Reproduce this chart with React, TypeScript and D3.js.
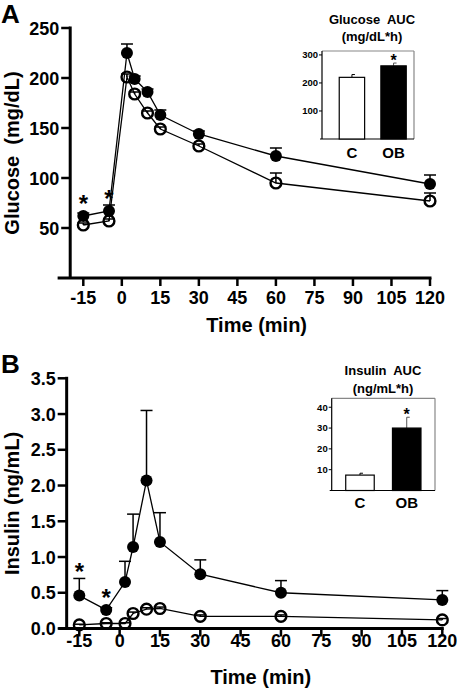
import React from "react";
import * as d3 from "d3";

// ---------- data ----------
const times = [-15, -5, 2, 5, 10, 15, 30, 60, 120];
const xTicks = [-15, 0, 15, 30, 45, 60, 75, 90, 105, 120];

const glucoseOB = [62, 67, 225, 199, 186, 163, 144, 122, 94];
const glucoseOBErr = [3, 6, 9, 3, 3, 5, 3, 8, 9];
const glucoseC = [53, 57, 201, 184, 165, 149, 132, 95, 77];
const glucoseCErr = [2, 2, 3, 2, 2, 2, 2, 10, 8];
const glucoseSig = [true, true, false, false, false, false, false, false, false];
const glucoseTicks = [50, 100, 150, 200, 250];

const insulinOB = [0.46, 0.26, 0.65, 1.14, 2.07, 1.21, 0.76, 0.5, 0.4];
const insulinOBErr = [0.24, 0.03, 0.29, 0.46, 0.98, 0.41, 0.2, 0.17, 0.13];
const insulinC = [0.05, 0.07, 0.07, 0.21, 0.27, 0.28, 0.17, 0.17, 0.12];
const insulinCErr = [0.01, 0.01, 0.01, 0.02, 0.02, 0.02, 0.02, 0.02, 0.02];
const insulinSig = [true, true, false, false, false, false, false, false, false];
const insulinTicks = [0, 0.5, 1.0, 1.5, 2.0, 2.5, 3.0, 3.5];

const aucGroups = ["C", "OB"];
const glucoseAUC = [220, 261];
const glucoseAUCErr = [10, 10];
const glucoseAUCSig = [false, true];
const glucoseAUCTicks = [100, 200, 300];

const insulinAUC = [7.4, 30.0];
const insulinAUCErr = [0.9, 5.2];
const insulinAUCSig = [false, true];
const insulinAUCTicks = [10, 20, 30, 40];

const FONT = "'Liberation Sans', Arial, Helvetica, sans-serif";

type PanelProps = {
  label: string;
  labelY: number;
  yTitle: string;
  x: d3.ScaleLinear<number, number>;
  y: d3.ScaleLinear<number, number>;
  xAxisFrom: number;
  yAxisAt: number;
  yTicks: number[];
  yFmt: (v: number) => string;
  ob: number[];
  obErr: number[];
  c: number[];
  cErr: number[];
  sig: boolean[];
  tickLabelY: number;
  titleY: number;
};

function Panel(p: PanelProps) {
  const { x, y } = p;
  const line = d3
    .line<number>()
    .x((_, i) => x(times[i]))
    .y((d) => y(d));
  const yAxisX = x(p.yAxisAt);
  const xAxisY = y(0);
  const yTop = y(p.yTicks[p.yTicks.length - 1]);
  const yMid = (yTop + xAxisY) / 2;
  const rF = 6;
  const rO = 5.4;
  return (
    <g>
      <text x={1} y={p.labelY} fontSize={26} fontWeight="bold" fontFamily={FONT}>
        {p.label}
      </text>
      {/* y title */}
      <text
        transform={`translate(19,${yMid}) rotate(-90)`}
        textAnchor="middle"
        fontSize={20}
        fontWeight="bold"
        fontFamily={FONT}
        xmlSpace="preserve"
      >
        {p.yTitle}
      </text>
      {/* axes */}
      <line x1={yAxisX} x2={yAxisX} y1={yTop - 1.5} y2={xAxisY} stroke="#000" strokeWidth={3} />
      <line x1={x(p.xAxisFrom)} x2={x(120) + 1.5} y1={xAxisY} y2={xAxisY} stroke="#000" strokeWidth={3} />
      {p.yTicks.map((t) => (
        <g key={"yt" + t}>
          <line x1={yAxisX - 9} x2={yAxisX} y1={y(t)} y2={y(t)} stroke="#000" strokeWidth={2.5} />
          <text
            x={yAxisX - 11}
            y={y(t) + 6.5}
            textAnchor="end"
            fontSize={18}
            fontWeight="bold"
            fontFamily={FONT}
          >
            {p.yFmt(t)}
          </text>
        </g>
      ))}
      {xTicks.map((t) => (
        <g key={"xt" + t}>
          <line x1={x(t)} x2={x(t)} y1={xAxisY} y2={xAxisY + 8} stroke="#000" strokeWidth={2.5} />
          <text
            x={x(t)}
            y={p.tickLabelY}
            textAnchor="middle"
            fontSize={18}
            fontWeight="bold"
            fontFamily={FONT}
          >
            {t}
          </text>
        </g>
      ))}
      <text
        x={(x(-15) + x(120)) / 2}
        y={p.titleY}
        textAnchor="middle"
        fontSize={20}
        fontWeight="bold"
        fontFamily={FONT}
      >
        Time (min)
      </text>
      {/* error bars */}
      {times.map((t, i) => (
        <g key={"e" + i} stroke="#000" strokeWidth={1.5}>
          <line x1={x(t)} x2={x(t)} y1={y(p.ob[i])} y2={y(p.ob[i] + p.obErr[i])} />
          <line x1={x(t) - 6} x2={x(t) + 6} y1={y(p.ob[i] + p.obErr[i])} y2={y(p.ob[i] + p.obErr[i])} />
          <line x1={x(t)} x2={x(t)} y1={y(p.c[i])} y2={y(p.c[i] + p.cErr[i])} />
          <line x1={x(t) - 6} x2={x(t) + 6} y1={y(p.c[i] + p.cErr[i])} y2={y(p.c[i] + p.cErr[i])} />
        </g>
      ))}
      <path d={line(p.c) || ""} fill="none" stroke="#000" strokeWidth={1.3} />
      <path d={line(p.ob) || ""} fill="none" stroke="#000" strokeWidth={1.3} />
      {times.map((t, i) => (
        <circle key={"c" + i} cx={x(t)} cy={y(p.c[i])} r={rO} fill="none" stroke="#000" strokeWidth={2.4} />
      ))}
      {times.map((t, i) => (
        <circle key={"o" + i} cx={x(t)} cy={y(p.ob[i])} r={rF} fill="#000" />
      ))}
      {times.map((t, i) =>
        p.sig[i] ? (
          <text
            key={"s" + i}
            x={x(t)}
            y={Math.min(y(p.ob[i] + p.obErr[i]), y(p.ob[i]) - rF) - 12 + 14}
            textAnchor="middle"
            fontSize={24}
            fontWeight="bold"
            fontFamily={FONT}
          >
            *
          </text>
        ) : null
      )}
    </g>
  );
}

type InsetProps = {
  title1: string;
  title2: string;
  cx: number;
  t1Y: number;
  t2Y: number;
  left: number;
  right: number;
  top: number;
  bottom: number;
  yMax: number;
  values: number[];
  errs: number[];
  sig: boolean[];
  ticks: number[];
  align: number;
  catY: number;
};

function Inset(p: InsetProps) {
  const y = d3.scaleLinear().domain([0, p.yMax]).range([p.bottom, p.top]);
  const xb = d3
    .scaleBand<string>()
    .domain(aucGroups)
    .range([p.left, p.right])
    .paddingInner(0.39)
    .paddingOuter(0.3)
    .align(p.align);
  const bw = xb.bandwidth();
  return (
    <g fontFamily={FONT} fontWeight="bold">
      <text x={p.cx} y={p.t1Y} textAnchor="middle" fontSize={13} xmlSpace="preserve">
        {p.title1}
      </text>
      <text x={p.cx} y={p.t2Y} textAnchor="middle" fontSize={13}>
        {p.title2}
      </text>
      <line x1={p.left} x2={p.right} y1={p.top} y2={p.top} stroke="#888" strokeWidth={1.2} />
      <line x1={p.right} x2={p.right} y1={p.top} y2={p.bottom} stroke="#888" strokeWidth={1.2} />
      <line x1={p.left} x2={p.left} y1={p.top} y2={p.bottom} stroke="#000" strokeWidth={1.2} />
      <line x1={p.left - 2} x2={p.right} y1={p.bottom} y2={p.bottom} stroke="#000" strokeWidth={1.2} />
      {p.ticks.map((t) => (
        <g key={"it" + t}>
          <line x1={p.left - 3} x2={p.left} y1={y(t)} y2={y(t)} stroke="#000" strokeWidth={1} />
          <text x={p.left - 4} y={y(t) + 3.3} textAnchor="end" fontSize={9.5}>
            {t}
          </text>
        </g>
      ))}
      {aucGroups.map((g, i) => {
        const bx = xb(g) as number;
        const cx = bx + bw / 2;
        const capY = y(p.values[i] + p.errs[i]);
        return (
          <g key={g}>
            <line x1={cx} x2={cx} y1={y(p.values[i])} y2={capY} stroke={i === 0 ? "#000" : "#555"} strokeWidth={1} />
            <line x1={cx} x2={cx + 3} y1={capY} y2={capY} stroke={i === 0 ? "#000" : "#555"} strokeWidth={1} />
            <rect
              x={bx}
              y={y(p.values[i])}
              width={bw}
              height={p.bottom - y(p.values[i])}
              fill={i === 0 ? "#fff" : "#000"}
              stroke="#000"
              strokeWidth={1.2}
            />
            <text x={cx} y={p.catY} textAnchor="middle" fontSize={15}>
              {g}
            </text>
            {p.sig[i] ? (
              <text x={cx} y={capY - 6.5 + 9.5} textAnchor="middle" fontSize={16}>
                *
              </text>
            ) : null}
          </g>
        );
      })}
    </g>
  );
}

export default function App() {
  const xA = d3.scaleLinear().domain([-15, 120]).range([83.3, 430]);
  const yA = d3.scaleLinear().domain([0, 250]).range([278, 28]);
  const xB = d3.scaleLinear().domain([-15, 120]).range([79.3, 442.3]);
  const yB = d3.scaleLinear().domain([0, 3.5]).range([628.5, 378.3]);
  return (
    <svg
      width={457}
      height={689}
      style={{ position: "absolute", left: 0, top: 0, background: "#fff" }}
    >
      <rect width={457} height={689} fill="#fff" />
      <Panel
        label="A"
        labelY={23}
        yTitle="Glucose  (mg/dL)"
        x={xA}
        y={yA}
        xAxisFrom={-25}
        yAxisAt={-20.1}
        yTicks={glucoseTicks}
        yFmt={(v) => String(v)}
        ob={glucoseOB}
        obErr={glucoseOBErr}
        c={glucoseC}
        cErr={glucoseCErr}
        sig={glucoseSig}
        tickLabelY={304}
        titleY={332}
      />
      <Panel
        label="B"
        labelY={373}
        yTitle="Insulin (ng/mL)"
        x={xB}
        y={yB}
        xAxisFrom={-22.8}
        yAxisAt={-19.7}
        yTicks={insulinTicks}
        yFmt={(v) => v.toFixed(1)}
        ob={insulinOB}
        obErr={insulinOBErr}
        c={insulinC}
        cErr={insulinCErr}
        sig={insulinSig}
        tickLabelY={647}
        titleY={684}
      />
      <Inset
        title1="Glucose  AUC"
        title2="(mg/dL*h)"
        cx={372}
        t1Y={24}
        t2Y={41}
        left={322}
        right={414}
        top={51}
        bottom={139}
        yMax={314}
        values={glucoseAUC}
        errs={glucoseAUCErr}
        sig={glucoseAUCSig}
        ticks={glucoseAUCTicks}
        align={0.69}
        catY={158}
      />
      <Inset
        title1="Insulin  AUC"
        title2="(ng/mL*h)"
        cx={383}
        t1Y={375}
        t2Y={393}
        left={331.7}
        right={435}
        top={398.3}
        bottom={490.5}
        yMax={44.3}
        values={insulinAUC}
        errs={insulinAUCErr}
        sig={insulinAUCSig}
        ticks={insulinAUCTicks}
        align={0.5}
        catY={508}
      />
    </svg>
  );
}
